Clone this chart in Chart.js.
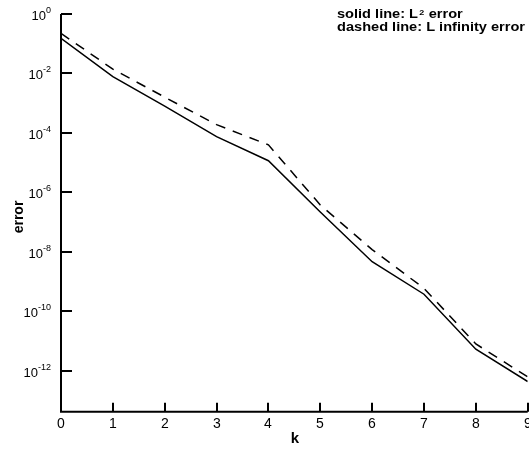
<!DOCTYPE html>
<html>
<head>
<meta charset="utf-8">
<script src="https://cdn.jsdelivr.net/npm/chart.js@4.4.1/dist/chart.umd.min.js"></script>
<style>
  html, body { margin: 0; padding: 0; background: #fff; }
  #wrap { width: 529px; height: 449px; }
</style>
</head>
<body>
<div id="wrap"><canvas id="c" width="529" height="449"></canvas></div>
<script>
// ---- data ----
const kValues = [0, 1, 2, 3, 4, 5, 6, 7, 8, 9];
const l2Error = [0.152, 7.8e-3, 8.0e-4, 7.5e-5, 1.17e-5, 2.2e-7, 4.7e-9, 3.8e-10, 5.4e-12, 4.4e-13];
const linfError = [0.224, 1.4e-2, 1.6e-3, 1.9e-4, 4.0e-5, 3.8e-7, 1.2e-8, 6.0e-10, 8.1e-12, 6.3e-13];
const xTicks = [0, 1, 2, 3, 4, 5, 6, 7, 8, 9];
const yTickExponents = [0, -2, -4, -6, -8, -10, -12];
const legendLines = ["solid line: L", "dashed line: L infinity error"];

const FONT = 'Arial, "Liberation Sans", Helvetica, sans-serif';

const axesPlugin = {
  id: 'customAxes',
  afterDatasetsDraw(chart) {
    const ctx = chart.ctx;
    const xs = chart.scales.x, ys = chart.scales.y;
    const ca = chart.chartArea;
    ctx.save();
    ctx.strokeStyle = '#000';
    ctx.fillStyle = '#000';
    ctx.lineWidth = 2;
    // axis lines
    ctx.beginPath();
    ctx.moveTo(ca.left, ca.top);
    ctx.lineTo(ca.left, ca.bottom);
    ctx.lineTo(ca.right, ca.bottom);
    ctx.stroke();
    // x ticks (inward)
    ctx.font = '14px ' + FONT;
    ctx.textAlign = 'center';
    ctx.textBaseline = 'middle';
    xTicks.forEach(v => {
      const px = Math.round(xs.getPixelForValue(v));
      ctx.beginPath();
      ctx.moveTo(px, ca.bottom);
      ctx.lineTo(px, ca.bottom - 9);
      ctx.stroke();
      ctx.fillText(String(v), px, ca.bottom + 12);
    });
    // y ticks (inward) + labels 10^n
    yTickExponents.forEach(e => {
      const py = Math.round(ys.getPixelForValue(Math.pow(10, e)));
      ctx.beginPath();
      ctx.moveTo(ca.left, py);
      ctx.lineTo(ca.left + 11, py);
      ctx.stroke();
      const expStr = e === 0 ? '0' : '-' + Math.abs(e);
      ctx.font = '9px ' + FONT;
      const ew = ctx.measureText(expStr).width;
      ctx.textAlign = 'left';
      ctx.textBaseline = 'alphabetic';
      const right = ca.left - 10;
      ctx.fillText(expStr, right - ew, py - 1);
      ctx.font = '13px ' + FONT;
      ctx.textAlign = 'right';
      ctx.fillText('10', right - ew, py + 6);
    });
    // axis titles
    ctx.font = 'bold 15px ' + FONT;
    ctx.textAlign = 'center';
    ctx.textBaseline = 'middle';
    ctx.fillText('k', 295, 439);
    ctx.save();
    ctx.translate(19, 217);
    ctx.rotate(-Math.PI / 2);
    ctx.font = 'bold 14px ' + FONT;
    ctx.fillText('error', 0, 0);
    ctx.restore();
    // legend text (slightly wide type, as in the original)
    const LF = 'bold 13px ' + FONT;
    ctx.font = LF;
    ctx.textAlign = 'left';
    ctx.textBaseline = 'alphabetic';
    const lx = 337;
    const sx = 188 / ctx.measureText(legendLines[1]).width;
    ctx.save();
    ctx.translate(lx, 0);
    ctx.scale(sx, 1);
    ctx.fillText(legendLines[0], 0, 18);
    const w = ctx.measureText(legendLines[0]).width;
    ctx.font = 'bold 8px ' + FONT;
    ctx.fillText('2', w + 1, 14.5);
    const w2 = ctx.measureText('2').width;
    ctx.font = LF;
    ctx.fillText(' error', w + w2 + 1.5, 18);
    ctx.fillText(legendLines[1], 0, 30.5);
    ctx.restore();
    ctx.restore();
  }
};

new Chart(document.getElementById('c'), {
  type: 'line',
  data: {
    datasets: [
      {
        label: 'L2 error',
        data: kValues.map((k, i) => ({ x: k, y: l2Error[i] })),
        borderColor: '#000',
        borderWidth: 1.5,
        pointRadius: 0,
        tension: 0,
        fill: false
      },
      {
        label: 'L infinity error',
        data: kValues.map((k, i) => ({ x: k, y: linfError[i] })),
        borderColor: '#000',
        borderWidth: 1.5,
        borderDash: [10, 8],
        pointRadius: 0,
        tension: 0,
        fill: false
      }
    ]
  },
  options: {
    responsive: false,
    animation: false,
    devicePixelRatio: 1,
    layout: { padding: { left: 61, right: 1.3, top: 14, bottom: 37.3 } },
    plugins: { legend: { display: false }, tooltip: { enabled: false } },
    scales: {
      x: {
        type: 'linear', min: 0, max: 9, display: false
      },
      y: {
        type: 'logarithmic', min: Math.pow(10, -13.37), max: 1, display: false
      }
    }
  },
  plugins: [axesPlugin]
});
</script>
</body>
</html>
